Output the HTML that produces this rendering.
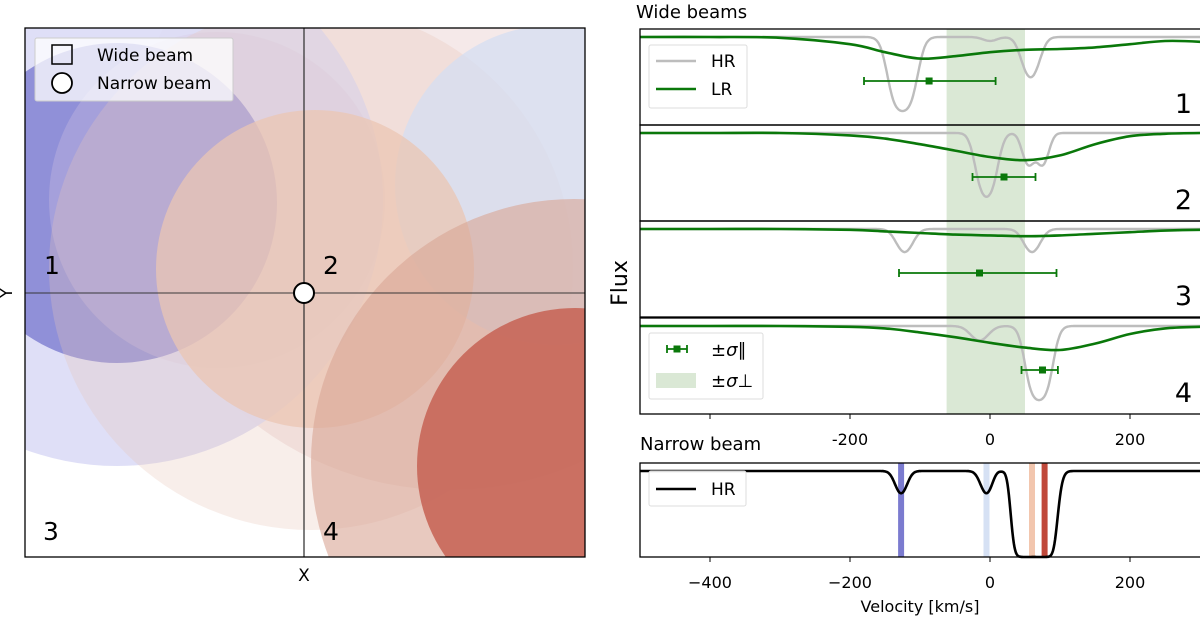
<!DOCTYPE html>
<html><head><meta charset="utf-8"><style>
html,body{margin:0;background:#fff;overflow:hidden;width:1200px;height:617px;}
svg{display:block;font-family:"DejaVu Sans","Liberation Sans",sans-serif;}
</style></head><body>
<svg id="fig" width="1200" height="617" viewBox="0 0 1200 617">
<defs>
<clipPath id="clipL"><rect x="25" y="28" width="560" height="529"/></clipPath>
<clipPath id="clipR"><rect x="635" y="29" width="570" height="530"/></clipPath>
</defs>
<g id="left"></g>
<g id="right"></g>
</svg>
<script>
const NS="http://www.w3.org/2000/svg";
function mk(tag,attrs,parent,text){const e=document.createElementNS(NS,tag);for(const k in attrs)e.setAttribute(k,attrs[k]);if(text!==undefined)e.textContent=text;parent.appendChild(e);return e;}

// ---------- Left panel data (beam footprints in map units) ----------
const beamCx=[450,117,117,217,311,555,315,574,575];
const beamCy=[170,200,203,200,268,185,269,462,466];
const beamR=[320,266,160,168,262,160,159,263,158];
const beamColor=["#f2e4e4","#dcdcf6","#9090d8","#d8c8e0","#e8c8b9","#d4def2","#ebc6b3","#d9a594","#c8685a"];
const beamAlpha=[0.8,0.9,1,0.3,0.3,0.75,0.75,0.6,0.92];

const L=document.getElementById('left');
const gc=mk('g',{'clip-path':'url(#clipL)'},L);


for(let i=0;i<beamCx.length;i++){
  const c=mk('circle',{cx:beamCx[i],cy:beamCy[i],r:beamR[i],fill:beamColor[i],'fill-opacity':beamAlpha[i]},gc);
  
  
}
mk('line',{x1:304,y1:28,x2:304,y2:557,stroke:'#333','stroke-opacity':0.7,'stroke-width':1.8},L);
mk('line',{x1:25,y1:293,x2:585,y2:293,stroke:'#333','stroke-opacity':0.55,'stroke-width':1.8},L);
mk('rect',{x:25,y:28,width:560,height:529,fill:'none',stroke:'#000','stroke-width':1.3},L);
const nb=mk('circle',{cx:304,cy:293,r:10,fill:'#fff',stroke:'#000','stroke-width':2},L);


const qLabels=[["1",44,274],["2",323,274],["3",43,540],["4",323,540]];
qLabels.forEach(q=>{const t=mk('text',{x:q[1],y:q[2],'font-size':25},L,q[0]);});
mk('text',{x:304,y:581,'font-size':17,'text-anchor':'middle'},L,'X');
mk('text',{x:0,y:0,'font-size':17,'text-anchor':'middle',transform:'translate(12,293) rotate(-90)'},L,'Y');
const lg=mk('g',{},L);
mk('rect',{x:35,y:38,width:198,height:63,fill:'#fff','fill-opacity':0.75,stroke:'#ccc',rx:2},lg);
mk('rect',{x:52,y:45,width:20,height:19,fill:'none',stroke:'#000','stroke-width':1.5},lg);
mk('text',{x:97,y:61,'font-size':17},lg,'Wide beam');
mk('circle',{cx:62,cy:83,r:10,fill:'#fff',stroke:'#000','stroke-width':1.8},lg);
mk('text',{x:97,y:89,'font-size':17},lg,'Narrow beam');

// ---------- Right panel data ----------
const vGrid=[-500,-400,-300,-200,-150,-100,-50,0,50,100,150,200,250,300,350,430];
const lr1=[1,1,0.99,0.91,0.81,0.73,0.76,0.81,0.84,0.85,0.87,0.91,0.95,0.94,0.9,0.84];
const lr2=[1,1,1,0.97,0.93,0.86,0.78,0.7,0.66,0.72,0.86,0.96,0.99,1,1,1];
const lr3=[1,1,1,0.99,0.97,0.95,0.93,0.92,0.91,0.92,0.94,0.96,0.98,0.99,0.99,0.98];
const lr4=[1,1,1,0.99,0.97,0.92,0.86,0.79,0.73,0.7,0.78,0.9,0.97,0.99,1,1];
const lrSeries=[lr1,lr2,lr3,lr4];
// HR components: centers, widths, optical depths
const hrC=[[-125,0,58],[-5,55,75],[-122,60],[-15,70]];
const hrW=[[13,10,11],[11,8,8],[11,11],[12,12]];
const hrT=[[2.6,0.05,0.7],[1.6,0.5,0.5],[0.34,0.34],[0.2,2.6]];
const errCenter=[-87,20,-15,75];
const errLo=[-180,-25,-130,45];
const errHi=[8,65,95,97];
const errFlux=[0.45,0.45,0.45,0.45];
const bandLo=-62, bandHi=50;
const narrowC=[-127,-5,50,75];
const narrowW=[8,8,10,10];
const narrowT=[0.3,0.3,8,8];
const narrowPeakAt=[18];
const vlineV=[-127,-5,60,78];
const vlineColor=["#7b7bcf","#d6e1f4","#f2c6ae","#c0493b"];
const xTicks=[-400,-200,0,200];
const panelNames=["1","2","3","4"];

const X=v=>990+(v)*0.7;
const panelTop=[29,125,221,318];
const panelH=96;
const Yw=(i,f)=>panelTop[i]+8+(1-f)*80;
const nTop=463,nBot=557;
const Yn=f=>471+(1-f)*86;

function hr(cs,ws,ts,v){let tau=0;for(let k=0;k<cs.length;k++)tau+=ts[k]*Math.exp(-Math.pow((v-cs[k])/ws[k],2)/2);return Math.exp(-tau);}
function catmull(pts){let d='M'+pts[0][0]+','+pts[0][1];for(let i=0;i<pts.length-1;i++){const p0=pts[Math.max(0,i-1)],p1=pts[i],p2=pts[i+1],p3=pts[Math.min(pts.length-1,i+2)];d+=` C${p1[0]+(p2[0]-p0[0])/6},${p1[1]+(p2[1]-p0[1])/6} ${p2[0]-(p3[0]-p1[0])/6},${p2[1]-(p3[1]-p1[1])/6} ${p2[0]},${p2[1]}`;}return d;}

const R=document.getElementById('right');
mk('text',{x:636,y:18,'font-size':18},R,'Wide beams');
mk('text',{x:0,y:0,'font-size':22,'text-anchor':'middle',transform:'translate(627,283) rotate(-90)'},R,'Flux');
const band=mk('rect',{x:X(bandLo),y:29,width:X(bandHi)-X(bandLo),height:385,fill:'#dae8d5'},R);



for(let i=0;i<4;i++){
  const g=mk('g',{'clip-path':'url(#clipR)'},R);
  
  
  let d='';
  for(let v=-500;v<=400;v+=1.5){d+=(d?'L':'M')+X(v).toFixed(1)+','+Yw(i,hr(hrC[i],hrW[i],hrT[i],v)).toFixed(1);}
  const h=mk('path',{d:d,fill:'none',stroke:'#bdbdbd','stroke-width':2.4},g);
  
  
  const pts=vGrid.map((v,k)=>[X(v),Yw(i,lrSeries[i][k])]);
  const l=mk('path',{d:catmull(pts),fill:'none',stroke:'#0a780a','stroke-width':2.6},g);
  
  
  const ey=Yw(i,errFlux[i]);
  const eb=mk('g',{stroke:'#0a780a','stroke-width':1.8},g);
  
  
  mk('line',{x1:X(errLo[i]),y1:ey,x2:X(errHi[i]),y2:ey},eb);
  mk('line',{x1:X(errLo[i]),y1:ey-4,x2:X(errLo[i]),y2:ey+4},eb);
  mk('line',{x1:X(errHi[i]),y1:ey-4,x2:X(errHi[i]),y2:ey+4},eb);
  mk('rect',{x:X(errCenter[i])-3.5,y:ey-3.5,width:7,height:7,fill:'#0a780a',stroke:'none'},eb);
  const n=mk('text',{x:1192,y:panelTop[i]+84,'font-size':27,'text-anchor':'end'},R,panelNames[i]);
  
  
  mk('rect',{x:640,y:panelTop[i],width:565,height:panelH,fill:'none',stroke:'#000','stroke-width':1.3},R);
}
// legend 1
const l1=mk('g',{},R);
mk('rect',{x:649,y:45,width:98,height:63,fill:'#fff','fill-opacity':0.85,stroke:'#ddd',rx:2},l1);
mk('line',{x1:656,y1:61,x2:696,y2:61,stroke:'#bdbdbd','stroke-width':2.4},l1);
mk('text',{x:711,y:67,'font-size':17},l1,'HR');
mk('line',{x1:656,y1:89,x2:696,y2:89,stroke:'#0a780a','stroke-width':2.4},l1);
mk('text',{x:711,y:95,'font-size':17},l1,'LR');
// legend 4
const l4=mk('g',{},R);
mk('rect',{x:649,y:333,width:114,height:66,fill:'#fff','fill-opacity':0.85,stroke:'#ddd',rx:2},l4);
mk('line',{x1:667,y1:349,x2:687,y2:349,stroke:'#0a780a','stroke-width':1.8},l4);
mk('line',{x1:667,y1:345,x2:667,y2:353,stroke:'#0a780a','stroke-width':1.8},l4);
mk('line',{x1:687,y1:345,x2:687,y2:353,stroke:'#0a780a','stroke-width':1.8},l4);
mk('rect',{x:673.5,y:345.5,width:7,height:7,fill:'#0a780a'},l4);
mk('text',{x:711,y:356,'font-size':18,'font-style':'italic'},l4,'±σ∥');
mk('rect',{x:656,y:373,width:40,height:15,fill:'#dae8d5'},l4);
mk('text',{x:711,y:387,'font-size':18,'font-style':'italic'},l4,'±σ⊥');
// wide bottom ticks
xTicks.forEach(t=>{mk('line',{x1:X(t),y1:414,x2:X(t),y2:419,stroke:'#000','stroke-width':1},R);
  if(t!==-400){const tl=mk('text',{x:X(t),y:445,'font-size':16,'text-anchor':'middle'},R,String(t));}});

// narrow beam
mk('text',{x:640,y:450,'font-size':18},R,'Narrow beam');
const ng=mk('g',{'clip-path':'url(#clipR)'},R);


vlineV.forEach((v,k)=>{const r=mk('rect',{x:X(v)-3,y:nTop,width:6,height:nBot-nTop,fill:vlineColor[k]},ng);});
let dn='';
for(let v=-500;v<=400;v+=1){let f=hr(narrowC,narrowW,narrowT,v);f=Math.min(1,f+0.8*Math.exp(-Math.pow((v-narrowPeakAt[0])/7,2)/2)*(1-f));dn+=(dn?'L':'M')+X(v).toFixed(1)+','+Yn(f).toFixed(1);}
const np=mk('path',{d:dn,fill:'none',stroke:'#000','stroke-width':2.6},ng);


mk('rect',{x:640,y:nTop,width:565,height:nBot-nTop,fill:'none',stroke:'#000','stroke-width':1.3},R);
const ln=mk('g',{},R);
mk('rect',{x:649,y:471,width:97,height:35,fill:'#fff','fill-opacity':0.85,stroke:'#ddd',rx:2},ln);
mk('line',{x1:656,y1:489,x2:696,y2:489,stroke:'#000','stroke-width':2.4},ln);
mk('text',{x:711,y:495,'font-size':17},ln,'HR');
xTicks.forEach(t=>{mk('line',{x1:X(t),y1:nBot,x2:X(t),y2:nBot+5,stroke:'#000','stroke-width':1},R);
  const tl=mk('text',{x:X(t),y:588,'font-size':16,'text-anchor':'middle'},R,String(t).replace('-','−'));});
mk('text',{x:920,y:612,'font-size':16,'text-anchor':'middle'},R,'Velocity [km/s]');
</script>
</body></html>
